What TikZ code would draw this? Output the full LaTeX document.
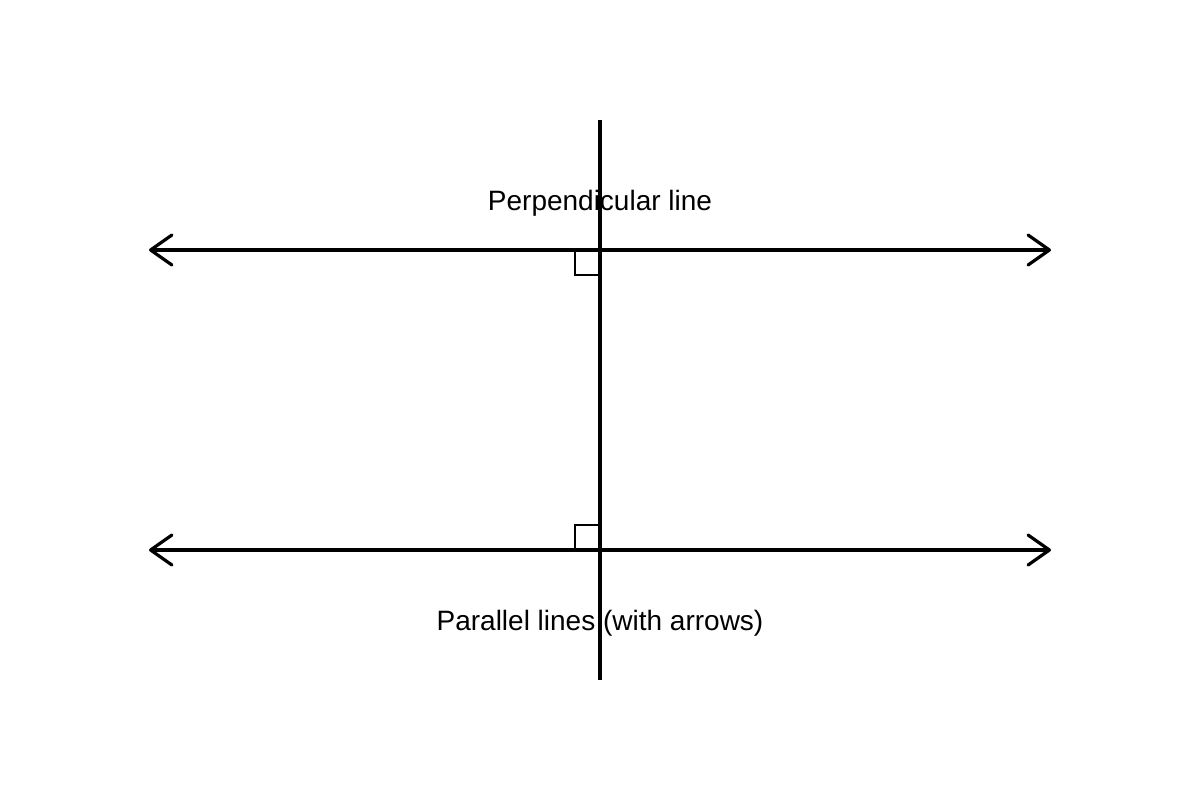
\documentclass[tikz,border=0pt]{standalone}
\usepackage{fontspec}
\setmainfont{Liberation Sans}
\usetikzlibrary{arrows.meta}
\begin{document}
\begin{tikzpicture}[x=0.75pt,y=-0.75pt,
  mainline/.style={line width=3pt},
  barb/.tip={Straight Barb[length=16pt,width=22.5pt,line width=2.4pt,round]},
  openarrows/.style={mainline,barb-barb},
  rightmark/.style={line width=1.6pt},
  lbl/.style={anchor=base,inner sep=0pt,font=\fontsize{21pt}{25pt}\selectfont}]
\useasboundingbox[fill=white] (0,0) rectangle (1200,800);
% named end points
\coordinate (t1) at (149,250);
\coordinate (t2) at (1051,250);
\coordinate (b1) at (149,550);
\coordinate (b2) at (1051,550);
\coordinate (vtop) at (600,120);
\coordinate (vbot) at (600,680);
\coordinate (xt) at (600,250);
\coordinate (xb) at (600,550);
% right angle marks
\draw[rightmark] (xt) ++(0,25) -- ++(-25,0) -- ++(0,-25);
\draw[rightmark] (xb) ++(0,-25) -- ++(-25,0) -- ++(0,25);
% lines
\draw[openarrows] (t1) -- (t2);
\draw[openarrows] (b1) -- (b2);
% labels
\node[lbl] (lp) at (600,210) {Perpendicular line};
\node[lbl] (lq) at (600,630) {Parallel lines (with arrows)};
\draw[mainline] (vtop) -- (vbot);
\end{tikzpicture}
\end{document}
